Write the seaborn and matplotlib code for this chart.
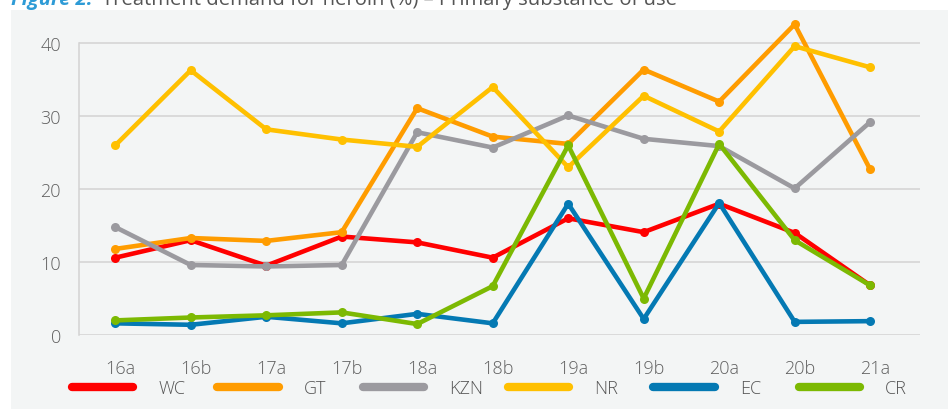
import pandas as pd
import numpy as np
import matplotlib
matplotlib.use('Agg')
from matplotlib import pyplot as plt
from matplotlib.lines import Line2D
from matplotlib.patches import Rectangle
import matplotlib.transforms as mtransforms
import seaborn as sns

# periods and % of treatment demand for heroin by region
periods = ['16a', '16b', '17a', '17b', '18a', '18b', '19a', '19b', '20a', '20b', '21a']
regions = ['WC', 'GT', 'KZN', 'NR', 'EC', 'CR']
wc = [10.6, 13.0, 9.5, 13.5, 12.7, 10.6, 16.0, 14.1, 18.0, 14.0, 6.8]
gt = [11.8, 13.3, 12.9, 14.1, 31.1, 27.2, 26.2, 36.4, 32.0, 42.6, 22.7]
kzn = [14.8, 9.6, 9.4, 9.6, 27.8, 25.7, 30.1, 26.9, 25.9, 20.1, 29.2]
nr = [26.0, 36.3, 28.2, 26.8, 25.8, 34.0, 23.0, 32.8, 27.9, 39.6, 36.7]
ec = [1.6, 1.4, 2.5, 1.6, 2.9, 1.6, 18.0, 2.2, 18.1, 1.8, 1.9]
cr = [2.0, 2.4, 2.7, 3.1, 1.5, 6.7, 26.0, 5.0, 26.2, 13.0, 6.8]
colors = ['#ff0000', '#ff9c00', '#9b9a9f', '#ffc000', '#0479b3', '#7cb902']

df = pd.DataFrame({'WC': wc, 'GT': gt, 'KZN': kzn, 'NR': nr, 'EC': ec, 'CR': cr}, index=periods)
df = df.reset_index(names='Period').melt(id_vars='Period', var_name='Region', value_name='Pct')

sns.set_style('white')
plt.rcParams['font.family'] = ['Open Sans', 'DejaVu Sans']
plt.rcParams['font.weight'] = 'light'

fig = plt.figure(figsize=(9.48, 4.10), dpi=100)
fig.patches.append(Rectangle((11 / 948, 0), 1, 399 / 410, transform=fig.transFigure,
                             facecolor='#f3f5f5', edgecolor='none', zorder=-5))

ax = fig.add_axes([79 / 948, 74 / 410, 841 / 948, 320.9 / 410])
ax.set_facecolor('none')

sns.lineplot(data=df, x='Period', y='Pct', hue='Region', hue_order=regions,
             palette=colors, marker='o', markersize=6.5, markeredgewidth=0,
             linewidth=3.3, legend=False, ax=ax, clip_on=False)

ax.set_xlim(-0.48, 10.66)
ax.set_ylim(0, 44)
ax.set_yticks([0, 10, 20, 30, 40])
ax.yaxis.grid(True, color='#d3d3d3', linewidth=1.1)
ax.set_axisbelow(True)
for s in ['top', 'right', 'bottom']:
    ax.spines[s].set_visible(False)
ax.spines['left'].set_color('#d3d3d3')
ax.spines['left'].set_linewidth(1.1)
ax.spines['left'].set_bounds(0, 40)
ax.set_xlabel('')
ax.set_ylabel('')
ax.tick_params(axis='x', length=0, pad=17, labelsize=13, labelcolor='#5f5f5f')
ax.tick_params(axis='y', length=0, pad=13, labelsize=13, labelcolor='#5f5f5f')
shift = mtransforms.ScaledTranslation(5 / 100, 0, fig.dpi_scale_trans)
for lab in ax.get_xticklabels():
    lab.set_transform(lab.get_transform() + shift)

# legend: evenly spaced entries like the original
for i, (name, c) in enumerate(zip(regions, colors)):
    h = Line2D([0], [0], color=c, lw=6, solid_capstyle='round')
    fig.legend([h], [name], loc='center left',
               bbox_to_anchor=((72 + 145.3 * i) / 948, 1 - 389 / 410),
               frameon=False, fontsize=13, handlelength=3.4, handletextpad=1.4,
               borderpad=0, borderaxespad=0, labelcolor='#555555')

# title, cut off at the top edge as in the source
fig.text(11 / 948, 1 - 5 / 410, 'Figure 2:', color='#2e9bd6', fontsize=14.6,
         fontweight='bold', fontstyle='italic', va='baseline')
fig.text(102 / 948, 1 - 5 / 410, 'Treatment demand for heroin (%) \u2013 Primary substance of use',
         color='#555555', fontsize=14.6, fontweight='normal', va='baseline')

fig.savefig('out.png', dpi=100)
